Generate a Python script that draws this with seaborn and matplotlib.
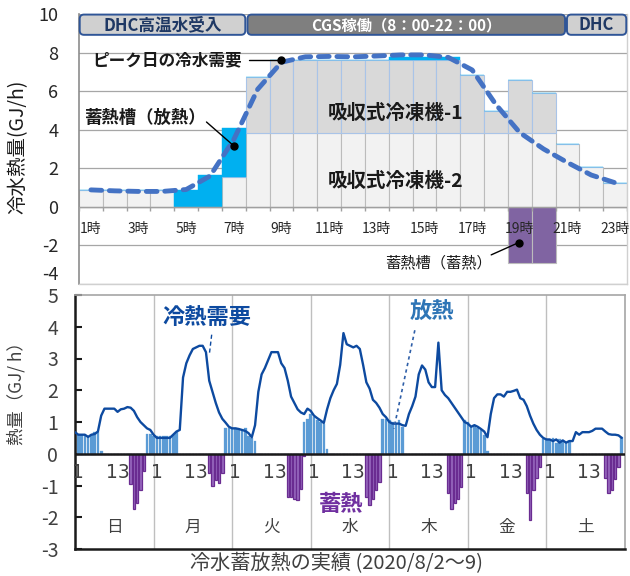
import numpy as np
import matplotlib
matplotlib.use("Agg")
import matplotlib.pyplot as plt
from matplotlib.patches import FancyBboxPatch
import seaborn as sns

# ---------------- top panel: peak day (hourly) ----------------
hour_labels = [f"{h}時" for h in range(1, 24)]
absorber2 = [0.85, 0.85, 0.85, 0.85, 0, 0, 1.55, 3.83, 3.83, 3.83, 3.83, 3.83,
             3.83, 3.83, 3.83, 3.83, 3.83, 3.83, 3.83, 3.83, 3.26, 2.08, 1.25]
absorber1 = [0, 0, 0, 0, 0, 0, 0, 2.92, 3.77, 3.80, 3.80, 3.80, 3.80, 3.80,
             3.80, 3.80, 3.01, 1.15, 2.75, 2.09, 0, 0, 0]
tank_release = [0, 0, 0, 0, 0.90, 1.65, 2.56, 0, 0, 0, 0, 0, 0, 0.15, 0.15,
                0.12, 0, 0, 0, 0, 0, 0, 0]
tank_store = [0, 0, 0, 0, 0, 0, 0, 0, 0, 0, 0, 0, 0, 0, 0, 0, 0, 0, -2.92,
              -2.92, 0, 0, 0]
peak_demand = [0.88, 0.83, 0.80, 0.80, 0.90, 1.60, 3.50, 6.10, 7.50, 7.78,
               7.80, 7.78, 7.82, 7.88, 7.88, 7.75, 7.10, 5.30, 3.85, 3.00,
               2.30, 1.65, 1.25]

# ---------------- bottom panel: one week (hourly) ----------------
day_labels = ["日", "月", "火", "水", "木", "金", "土"]
demand_week = [
    [0.68, 0.60, 0.60, 0.60, 0.53, 0.60, 0.62, 0.70, 1.20, 1.42, 1.42, 1.42,
     1.42, 1.32, 1.40, 1.42, 1.47, 1.45, 1.35, 1.15, 1.00, 0.90, 0.80, 0.75],
    [0.60, 0.50, 0.50, 0.50, 0.50, 0.50, 0.60, 0.70, 0.75, 2.40, 2.85, 3.10,
     3.30, 3.35, 3.40, 3.40, 3.20, 2.30, 1.95, 1.60, 1.30, 1.10, 0.98, 0.85],
    [0.80, 0.80, 0.78, 0.75, 0.72, 0.65, 0.52, 0.90, 1.95, 2.50, 2.70, 2.95,
     3.20, 3.20, 3.20, 2.85, 2.70, 2.30, 1.80, 1.60, 1.40, 1.30, 1.25, 1.42],
    [1.35, 1.20, 1.12, 1.05, 0.97, 1.40, 1.75, 2.00, 2.20, 2.80, 3.80, 3.45,
     3.40, 3.35, 3.40, 3.30, 2.80, 2.25, 2.05, 1.70, 1.60, 1.45, 1.25, 1.15],
    [1.00, 0.95, 0.95, 0.95, 0.90, 0.88, 1.25, 1.50, 1.80, 2.50, 2.78, 2.65,
     2.25, 2.10, 2.10, 3.50, 2.00, 1.85, 1.75, 1.60, 1.45, 1.30, 1.15, 1.00],
    [0.95, 0.85, 0.90, 0.85, 0.78, 0.70, 0.52, 1.25, 1.75, 1.87, 1.87, 1.80,
     1.95, 1.95, 1.98, 2.02, 1.75, 1.70, 1.50, 1.20, 0.95, 0.75, 0.60, 0.50],
    [0.45, 0.45, 0.40, 0.45, 0.35, 0.42, 0.35, 0.40, 0.40, 0.68, 0.60, 0.68,
     0.68, 0.68, 0.72, 0.79, 0.79, 0.79, 0.70, 0.62, 0.60, 0.60, 0.58, 0.50],
]
release_week = [
    [0.65, 0.60, 0.60, 0.60, 0.55, 0.60, 0.70, 0.70, 0.10, 0, 0, 0,
     0, 0, 0, 0, 0, 0, 0, 0, 0, 0, 0.62, 0.62],
    [0.55, 0.55, 0.55, 0.55, 0.55, 0.55, 0.60, 0.70, 0, 0, 0, 0,
     0, 0, 0, 0, 0, 0, 0, 0, 0, 0, 0.80, 0.80],
    [0.80, 0.80, 0.75, 0.75, 0.80, 0.55, 0.50, 0.40, 0, 0, 0, 0,
     0, 0, 0, 0, 0, 0, 0, 0, 0, 0, 1.00, 1.10],
    [1.25, 1.15, 1.05, 1.00, 0.95, 0.15, 0, 0, 0, 0, 0, 0,
     0, 0, 0, 0, 0, 0, 0, 0, 0, 0, 1.10, 1.10],
    [1.05, 1.00, 0.95, 1.05, 0.85, 0, 0, 0, 0, 0, 0, 0,
     0, 0, 0, 0, 0, 0, 0, 0, 0, 0, 0, 1.05],
    [1.00, 0.85, 0.90, 0.80, 0.75, 0.60, 0.08, 0, 0, 0, 0, 0,
     0, 0, 0, 0, 0, 0, 0, 0, 0, 0, 0, 0.45],
    [0.45, 0.42, 0.50, 0.35, 0.45, 0.40, 0.35, 0.40, 0, 0, 0, 0,
     0, 0, 0, 0, 0, 0, 0, 0, 0, 0, 0, 0.52],
]
storage_week = [
    [0] * 17 + [-0.95, -1.75, -1.55, -1.15, -0.55, 0, 0],
    [0] * 17 + [-0.62, -1.02, -0.82, -0.92, -0.62, 0, 0],
    [0] * 17 + [-1.35, -1.35, -1.42, -1.45, -1.12, -0.08, 0],
    [0] * 17 + [-1.35, -1.60, -1.42, -1.15, -0.90, 0, 0],
    [0] * 18 + [-1.23, -1.74, -1.55, -1.43, -1.05, 0],
    [0] * 18 + [-1.23, -2.10, -1.15, -0.76, -0.42, 0],
    [0] * 18 + [-0.75, -1.23, -1.13, -0.80, -0.42, 0],
]

# ---------------- style ----------------
sns.set_theme(style="white")
plt.rcParams["font.family"] = ["Noto Sans CJK JP", "DejaVu Sans"]
plt.rcParams["axes.unicode_minus"] = False

fig = plt.figure(figsize=(6.3, 5.76), dpi=100)
ax1 = fig.add_axes([79 / 630, 1 - 284 / 576, 548 / 630, 270 / 576])
ax2 = fig.add_axes([75 / 630, 1 - 549 / 576, 550 / 630, 254 / 576])

# ================= TOP PANEL =================
x = np.arange(len(hour_labels))
a2 = np.array(absorber2)
a1 = np.array(absorber1)
ax1.set_axisbelow(True)
ax1.bar(x, a2, width=1.0, color="#f2f2f2", edgecolor="#bcbcbc", linewidth=0.8, zorder=2)
ax1.bar(x, a1, bottom=a2, width=1.0, color="#d9d9d9", edgecolor="#a9c4e8",
        linewidth=0.8, zorder=2)
ax1.bar(x, tank_release, bottom=a2 + a1, width=1.0, color="#00b0f0",
        edgecolor="#00b0f0", linewidth=0.3, zorder=2)
ax1.bar(x, tank_store, width=1.0, color="#8064a2", edgecolor="#bcbcbc",
        linewidth=0.8, zorder=2)
sns.lineplot(x=x, y=peak_demand, ax=ax1, color="#4472c4", linewidth=3.5,
             linestyle=(0, (2.2, 1.6)), dash_capstyle="round", zorder=4,
             errorbar=None, sort=False)

ax1.set_xlim(-0.5, len(hour_labels) - 0.5)
ax1.set_ylim(-4, 10)
ax1.set_yticks(np.arange(-4, 11, 2))
ax1.set_yticklabels([str(v) for v in range(-4, 11, 2)], fontsize=13, color="#262626")
ax1.get_yticklabels()[0].set_verticalalignment("bottom")
ax1.tick_params(axis="y", length=0, pad=15)
ax1.set_xticks([])
ax1.grid(axis="y", color="#a6a6a6", linewidth=0.9)
ax1.grid(axis="x", visible=False)
ax1.axhline(0, color="#a0a0a0", linewidth=1.0, zorder=3)
ax1.vlines(np.arange(len(hour_labels) + 1) - 0.5, -0.2, 0, color="#a0a0a0",
           linewidth=1.0, zorder=3)
for i in range(0, len(hour_labels), 2):
    ax1.text(x[i], -1.14, hour_labels[i], ha="center", va="center",
             fontsize=10, color="#262626")
for side in ["right", "bottom"]:
    ax1.spines[side].set_color("#d0d0d0")
    ax1.spines[side].set_linewidth(1.0)
ax1.spines["left"].set_color("#8c8c8c")
ax1.spines["left"].set_linewidth(1.2)
ax1.spines["top"].set_visible(False)
ax1.set_ylabel("冷水熱量(GJ/h)", fontsize=14, color="#1a1a1a", labelpad=8)
ax1.yaxis.set_label_coords(-0.093, 0.507)

# header boxes
asp = 23.83 / 19.3
boxes = [(-0.47, 6.48, "#d0d0d0", "DHC高温水受入", "#1f3864", 12),
         (6.57, 19.9, "#7f7f7f", "CGS稼働（8：00-22：00）", "white", 11),
         (19.98, 22.47, "#d0d0d0", "DHC", "#1f3864", 12)]
for x0, x1_, fc, label, tc, fs in boxes:
    p = FancyBboxPatch((x0, 8.92), x1_ - x0, 1.05,
                       boxstyle="round,pad=0,rounding_size=0.18",
                       mutation_aspect=asp, facecolor=fc, edgecolor="#2f5597",
                       linewidth=1.4, clip_on=False, zorder=6)
    ax1.add_patch(p)
    ax1.text((x0 + x1_) / 2, 9.43, label, ha="center", va="center",
             fontsize=fs, color=tc, fontweight="bold", zorder=7)

# annotations
ax1.text(0.05, 7.62, "ピーク日の冷水需要", ha="left", va="center", fontsize=12,
         fontweight="bold", color="#1a1a1a", zorder=7)
ax1.plot([6.65, 7.97], [7.62, 7.62], color="black", linewidth=1.0, zorder=7)
ax1.plot([7.97], [7.62], "o", color="black", markersize=5, zorder=7)

ax1.text(-0.3, 4.6, "蓄熱槽（放熱）", ha="left", va="center", fontsize=12.5,
         fontweight="bold", color="#1a1a1a", zorder=7)
ax1.plot([4.85, 6.0], [4.4, 3.16], color="black", linewidth=1.0, zorder=7)
ax1.plot([6.0], [3.16], "o", color="black", markersize=5, zorder=7)

ax1.text(12.8, 4.85, "吸収式冷凍機-1", ha="center", va="center", fontsize=14,
         fontweight="bold", color="#1a1a1a", zorder=7)
ax1.text(12.8, 1.31, "吸収式冷凍機-2", ha="center", va="center", fontsize=14,
         fontweight="bold", color="#1a1a1a", zorder=7)

ax1.text(14.57, -2.92, "蓄熱槽（蓄熱）", ha="center", va="center", fontsize=11,
         color="#1a1a1a", zorder=7)
ax1.plot([16.8, 17.96], [-2.49, -1.85], color="black", linewidth=1.0, zorder=7)
ax1.plot([17.96], [-1.85], "o", color="black", markersize=5, zorder=7)

# ================= BOTTOM PANEL =================
demand = np.concatenate(demand_week)
release = np.concatenate(release_week)
storage = np.concatenate(storage_week)
pos = np.arange(len(demand))

ax2.bar(pos, release, width=0.8, color="#5b9bd5", edgecolor="#5b9bd5",
        linewidth=0.2, zorder=2)
ax2.bar(pos, storage, width=0.72, color="#9667bd", edgecolor="#6a2c91",
        linewidth=0.9, zorder=2)
sns.lineplot(x=pos, y=demand, ax=ax2, color="#0d4aa0", linewidth=1.7,
             zorder=4, errorbar=None, sort=False)

ax2.set_xlim(0, 168)
ax2.set_ylim(-3, 5)
for d in range(1, 7):
    ax2.axvline(24 * d, color="#bfbfbf", linewidth=1.0, zorder=1)
ax2.axhline(0, color="#1a1a1a", linewidth=1.8, zorder=5)
ax2.set_xticks([])
ax2.set_yticks(range(-3, 6))
ax2.set_yticklabels([str(v) for v in range(-3, 6)], fontsize=14, color="#404040")
ax2.tick_params(axis="y", direction="in", length=5, width=1.5, color="#1a1a1a",
                pad=12, left=True)
for side in ["left", "bottom"]:
    ax2.spines[side].set_color("#1a1a1a")
    ax2.spines[side].set_linewidth(1.8)
for side in ["right", "top"]:
    ax2.spines[side].set_color("#a6a6a6")
    ax2.spines[side].set_linewidth(1.2)

for d, lab in enumerate(day_labels):
    ax2.text(24 * d + 1, -0.58, "1", ha="center", va="center", fontsize=13.5,
             color="#404040", family="DejaVu Sans")
    ax2.text(24 * d + 13, -0.58, "13", ha="center", va="center", fontsize=13.5,
             color="#404040", family="DejaVu Sans")
    ax2.text(24 * d + 12, -2.32, lab, ha="center", va="center", fontsize=12,
             color="#404040")

ax2.set_ylabel("熱量（GJ/ h）", fontsize=12.5, color="#404040")
ax2.yaxis.set_label_coords(-0.09, 0.63)
ax2.set_xlabel("冷水蓄放熱の実績 (2020/8/2～9)", fontsize=14.5, color="#404040",
               labelpad=4)
ax2.xaxis.set_label_coords(0.475, -0.015)

ax2.text(40.3, 4.26, "冷熱需要", ha="center", va="center", fontsize=16,
         fontweight="bold", color="#0d4aa0", zorder=6)
ax2.plot([41.75, 41.0], [3.75, 3.1], color="#0d4aa0", linewidth=1.0,
         linestyle=(0, (3, 2)), zorder=6)
ax2.text(109.1, 4.45, "放熱", ha="center", va="center", fontsize=16,
         fontweight="bold", color="#2e75b6", zorder=6)
ax2.plot([103.8, 97.4], [3.89, 0.79], color="#2f5fa8", linewidth=1.2,
         linestyle=(0, (2, 2)), zorder=6)
ax2.text(81.2, -1.6, "蓄熱", ha="center", va="center", fontsize=16,
         fontweight="bold", color="#7030a0", zorder=6)

fig.savefig("out.png", dpi=100)
